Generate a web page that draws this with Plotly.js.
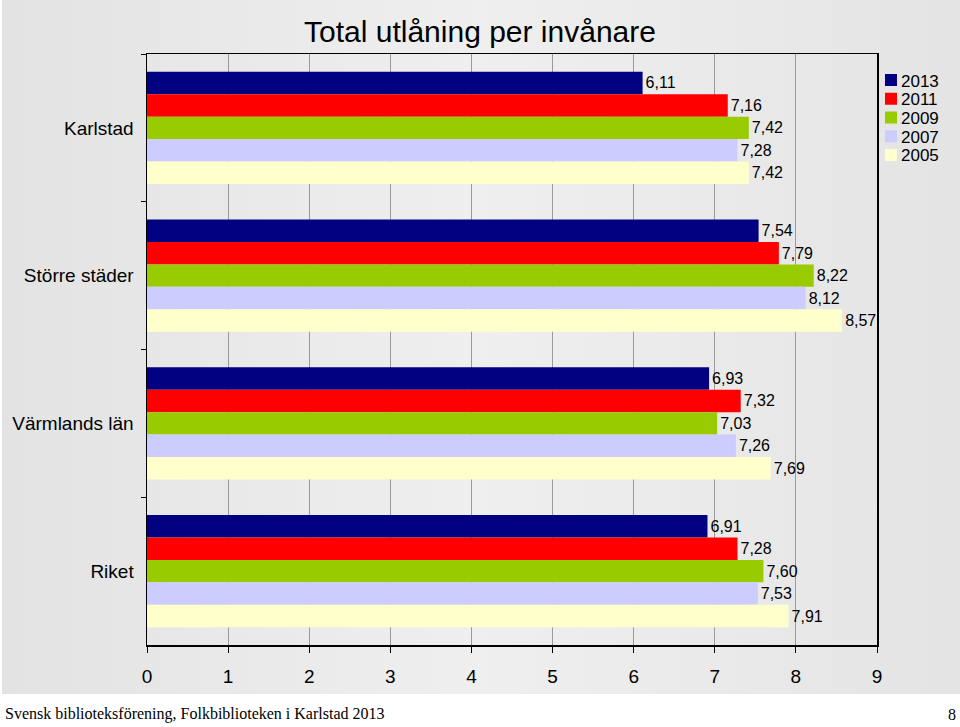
<!DOCTYPE html>
<html>
<head>
<meta charset="utf-8">
<script src="https://cdn.plot.ly/plotly-3.0.1.min.js"></script>
<style>
  html, body { margin: 0; padding: 0; background: #ffffff; }
  #chart {
    width: 960px; height: 727px;
    background:
      linear-gradient(to bottom, rgba(255,255,255,0) 0px, rgba(255,255,255,0) 694px, #ffffff 694px),
      linear-gradient(to right, #ffffff 0px, #ffffff 2px, #e3e3e3 2px, #efefef 50%, #e4e4e4 100%);
  }
</style>
</head>
<body>
<div id="chart"></div>
<script>
// ---- Data ----
const categories = ["Karlstad", "Större städer", "Värmlands län", "Riket"];
const years = ["2013", "2011", "2009", "2007", "2005"];
const values2013 = [6.11, 7.54, 6.93, 6.91];
const values2011 = [7.16, 7.79, 7.32, 7.28];
const values2009 = [7.42, 8.22, 7.03, 7.60];
const values2007 = [7.28, 8.12, 7.26, 7.53];
const values2005 = [7.42, 8.57, 7.69, 7.91];
const xTicks = [0, 1, 2, 3, 4, 5, 6, 7, 8, 9];
const titleText = "Total utlåning per invånare";
const footerText = "Svensk biblioteksförening, Folkbiblioteken i Karlstad 2013";
const pageNumber = "8";

// ---- Styles ----
const colors = ["#000080", "#FF0000", "#99CC00", "#CCCCFF", "#FFFFCC"];
const seriesValues = [values2013, values2011, values2009, values2007, values2005];
const FONT = "Liberation Sans, Arial, sans-serif";

// plot area in pixels
const L = 147, R = 877, T = 54, B = 645;
const px = x => (x - L) / (R - L);
const py = y => (B - y) / (B - T);

const traces = years.map((yr, i) => ({
  type: "bar",
  orientation: "h",
  name: yr,
  y: categories,
  x: seriesValues[i],
  marker: { color: colors[i], line: { width: 0 } },
  texttemplate: "%{x:.2f}",
  textposition: "outside",
  constraintext: "none",
  cliponaxis: false,
  textfont: { family: FONT, size: 16, color: "#000000" },
  hoverinfo: "skip",
  showlegend: false
}));

// custom legend built from series names and colors
const shapes = [];
const annotations = [];
years.forEach((yr, i) => {
  const cy = 80 + i * 18.75;
  shapes.push({
    type: "rect", xref: "paper", yref: "paper", layer: "above",
    x0: px(885), x1: px(897), y0: py(cy + 6), y1: py(cy - 6),
    fillcolor: colors[i], line: { width: 0 }
  });
  annotations.push({
    xref: "paper", yref: "paper", x: px(900), y: py(cy + 1),
    xanchor: "left", yanchor: "middle", showarrow: false,
    borderpad: 0,
    text: yr, font: { family: FONT, size: 17, color: "#000000" }
  });
});
annotations.push({
  xref: "paper", yref: "paper", x: px(3), y: py(714),
  xanchor: "left", yanchor: "middle", showarrow: false,
  text: footerText, font: { family: "Liberation Serif, Times New Roman, serif", size: 16, color: "#000000" }
});
annotations.push({
  xref: "paper", yref: "paper", x: px(958), y: py(714),
  xanchor: "right", yanchor: "middle", showarrow: false,
  text: pageNumber, font: { family: "Liberation Serif, Times New Roman, serif", size: 16, color: "#000000" }
});

const layout = {
  width: 960, height: 727,
  margin: { l: L, r: 960 - R, t: T, b: 727 - B, pad: 0 },
  paper_bgcolor: "rgba(0,0,0,0)",
  plot_bgcolor: "rgba(0,0,0,0)",
  font: { family: FONT, color: "#000000" },
  separators: ", ",
  title: {
    text: titleText,
    font: { family: FONT, size: 30, color: "#000000" },
    x: 0.5, xref: "container", xanchor: "center",
    y: 1 - 31 / 727, yref: "container", yanchor: "middle"
  },
  barmode: "group",
  bargap: 0.24,
  bargroupgap: 0,
  showlegend: false,
  xaxis: {
    range: [0, 9],
    tickvals: xTicks,
    ticktext: xTicks.map(String),
    showgrid: true, gridcolor: "#9a9a9a", gridwidth: 1,
    zeroline: false,
    showline: true, linecolor: "#000000", linewidth: 1.5, mirror: true,
    ticks: "outside", ticklen: 6, tickcolor: "#000000", tickwidth: 1,
    ticklabelstandoff: 8,
    tickfont: { family: FONT, size: 19, color: "#000000" },
    fixedrange: true
  },
  yaxis: {
    type: "category",
    categoryorder: "array", categoryarray: categories,
    autorange: "reversed",
    showgrid: false, zeroline: false,
    showline: true, linecolor: "#000000", linewidth: 1.5, mirror: true,
    ticks: "outside", ticklen: 5, tickcolor: "#000000", tickwidth: 1,
    tickson: "boundaries",
    ticklabelstandoff: 8,
    tickfont: { family: FONT, size: 19, color: "#000000" },
    fixedrange: true
  },
  shapes: shapes,
  annotations: annotations
};

Plotly.newPlot("chart", traces, layout, { staticPlot: true, displayModeBar: false });
</script>
</body>
</html>
